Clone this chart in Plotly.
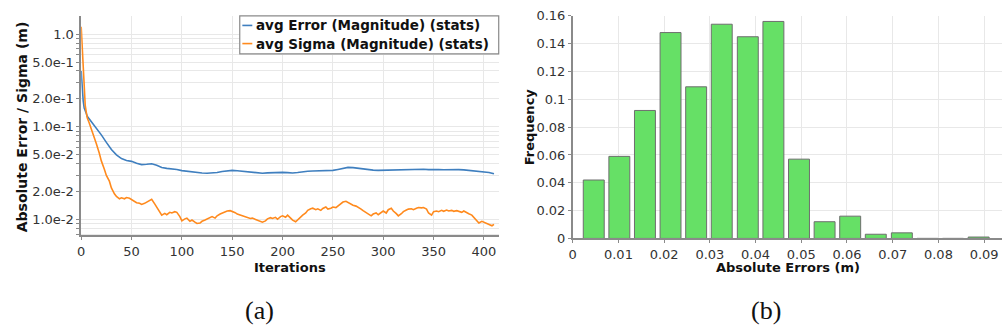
import plotly.graph_objects as go

# ---- (a) convergence of the per-iteration statistics ----
err_iter = [0, 1, 2, 3, 4, 5, 6, 8, 10, 15, 20, 25, 30, 35, 40, 45, 50, 55, 60, 65, 70, 75,
            80, 85, 90, 95, 100, 105, 110, 115, 120, 125, 130, 135, 140, 145, 150, 155, 160,
            165, 170, 175, 180, 185, 190, 195, 200, 205, 210, 215, 220, 225, 230, 235, 240,
            245, 250, 255, 260, 265, 270, 275, 280, 285, 290, 295, 300, 305, 310, 315, 320,
            325, 330, 335, 340, 345, 350, 355, 360, 365, 370, 375, 380, 385, 390, 395, 400,
            405, 410]
err_avg = [0.40, 0.25, 0.19, 0.16, 0.145, 0.14, 0.13, 0.122, 0.113, 0.097, 0.082, 0.068, 0.057,
           0.050, 0.0455, 0.0435, 0.0425, 0.0405, 0.0392, 0.0395, 0.0400, 0.0385, 0.0365,
           0.0357, 0.0355, 0.0347, 0.0338, 0.0332, 0.0327, 0.0323, 0.0318, 0.0316, 0.0318,
           0.0322, 0.0330, 0.0337, 0.0340, 0.0336, 0.0331, 0.0327, 0.0324, 0.0321, 0.0317,
           0.0319, 0.0322, 0.0321, 0.0323, 0.0321, 0.0318, 0.0322, 0.0330, 0.0333, 0.0334,
           0.0336, 0.0335, 0.0338, 0.0340, 0.0348, 0.0358, 0.0366, 0.0364, 0.0357, 0.0349,
           0.0344, 0.0342, 0.0340, 0.0341, 0.0345, 0.0344, 0.0346, 0.0342, 0.0345, 0.0348,
           0.0347, 0.0349, 0.0346, 0.0343, 0.0346, 0.0345, 0.0347, 0.0348, 0.0346, 0.0344,
           0.0340, 0.0334, 0.0330, 0.0328, 0.0322, 0.0312]

sig_iter = [0, 1, 2, 3, 4, 5, 6, 8, 10, 12, 15, 18, 20, 23, 25, 28, 30, 33, 35, 38, 40, 43, 45,
            48, 50, 53, 55, 58, 60, 63, 65, 68, 70, 73, 75, 78, 80, 83, 85, 88, 90, 93, 95, 98,
            100, 103, 105, 108, 110, 113, 115, 118, 120, 123, 125, 128, 130, 133, 135, 138,
            140, 143, 145, 148, 150, 153, 155, 158, 160, 163, 165, 168, 170, 173, 175, 178,
            180, 183, 185, 188, 190, 193, 195, 198, 200, 203, 205, 208, 210, 213, 215, 218,
            220, 223, 225, 228, 230, 233, 235, 238, 240, 243, 245, 248, 250, 253, 255, 258,
            260, 263, 265, 268, 270, 273, 275, 278, 280, 283, 285, 288, 290, 293, 295, 298,
            300, 303, 305, 308, 310, 313, 315, 318, 320, 323, 325, 328, 330, 333, 335, 338,
            340, 343, 345, 348, 350, 353, 355, 358, 360, 363, 365, 368, 370, 373, 375, 378,
            380, 383, 385, 388, 390, 393, 395, 398, 400, 403, 405, 408, 410]
sig_avg = [1.20, 0.70, 0.36, 0.22, 0.17, 0.145, 0.125, 0.11, 0.096, 0.085, 0.066, 0.052, 0.043,
           0.035, 0.030, 0.026, 0.022, 0.019, 0.0178, 0.0168, 0.0172, 0.0168, 0.0173, 0.0170,
           0.0165, 0.0160, 0.0152, 0.0150, 0.0146, 0.0150, 0.0155, 0.0162, 0.0166, 0.0148,
           0.0137, 0.0125, 0.0112, 0.0117, 0.0113, 0.0120, 0.0118, 0.0122, 0.0120, 0.0108,
           0.0097, 0.0102, 0.0104, 0.0096, 0.0099, 0.0094, 0.0091, 0.0092, 0.0096, 0.0099,
           0.0102, 0.0105, 0.0108, 0.0104, 0.0110, 0.0115, 0.0118, 0.0121, 0.0124, 0.0125,
           0.0123, 0.0119, 0.0115, 0.0112, 0.0110, 0.0107, 0.0106, 0.0103, 0.0104, 0.0101,
           0.0100, 0.0097, 0.0094, 0.0097, 0.0102, 0.0105, 0.0103, 0.0106, 0.0101, 0.0108,
           0.0110, 0.0106, 0.0112, 0.0104, 0.0099, 0.0095, 0.0100, 0.0106, 0.0112, 0.0118,
           0.0126, 0.0131, 0.0133, 0.0128, 0.0131, 0.0126, 0.0132, 0.0137, 0.0130, 0.0133,
           0.0137, 0.0135, 0.0141, 0.0150, 0.0155, 0.0158, 0.0153, 0.0147, 0.0143, 0.0140,
           0.0137, 0.0130, 0.0125, 0.0120, 0.0115, 0.0110, 0.0115, 0.0118, 0.0113, 0.0120,
           0.0124, 0.0118, 0.0128, 0.0133, 0.0124, 0.0116, 0.0110, 0.0116, 0.0122, 0.0127,
           0.0130, 0.0131, 0.0128, 0.0133, 0.0135, 0.0134, 0.0135, 0.0130, 0.0118, 0.0112,
           0.0122, 0.0124, 0.0122, 0.0126, 0.0123, 0.0127, 0.0124, 0.0126, 0.0123, 0.0125,
           0.0122, 0.0120, 0.0124, 0.0118, 0.0116, 0.0112, 0.0106, 0.0097, 0.0092, 0.0096,
           0.0094, 0.0090, 0.0088, 0.0086, 0.0089]

series_names = ["avg Error (Magnitude) (stats)", "avg Sigma (Magnitude) (stats)"]
series_colors = ["#3f7fbf", "#ff8a1d"]

iter_ticks = [0, 50, 100, 150, 200, 250, 300, 350, 400]
log_labels = {1.0: "1.0", 0.5: "5.0e-1", 0.2: "2.0e-1", 0.1: "1.0e-1",
              0.05: "5.0e-2", 0.02: "2.0e-2", 0.01: "1.0e-2"}

# ---- (b) histogram of absolute errors ----
bin_centers = [0.0046, 0.0102, 0.0158, 0.0214, 0.0270, 0.0326, 0.0383, 0.0439,
               0.0495, 0.0551, 0.0607, 0.0663, 0.0720, 0.0776, 0.0832, 0.0888]
frequency = [0.042, 0.059, 0.092, 0.148, 0.109, 0.154, 0.145, 0.156,
             0.057, 0.012, 0.016, 0.003, 0.004, 0.0, 0.0, 0.001]
err_ticks = [0, 0.01, 0.02, 0.03, 0.04, 0.05, 0.06, 0.07, 0.08, 0.09]
err_tick_text = ["0", "0.01", "0.02", "0.03", "0.04", "0.05", "0.06", "0.07", "0.08", "0.09"]
freq_ticks = [0, 0.02, 0.04, 0.06, 0.08, 0.1, 0.12, 0.14, 0.16]
freq_tick_text = ["0", "0.02", "0.04", "0.06", "0.08", "0.1", "0.12", "0.14", "0.16"]

W, H = 1002, 334
TICK_FONT = dict(family="DejaVu Sans", size=13, color="#333333")
TITLE_FONT = dict(family="DejaVu Sans", size=13, color="#111111")
GRID = "#e8e8e8"
AXIS = "#8a8a8a"

# log-axis grid: every 1..9 multiple of each decade, labels only at selected values
log_vals, log_text = [], []
for exp in (-3, -2, -1, 0):
    for m in range(1, 10):
        v = round(m * 10 ** exp, 6)
        if 0.006 <= v <= 1.6:
            log_vals.append(v)
            log_text.append(log_labels.get(v, ""))

fig = go.Figure()

fig.add_trace(go.Scatter(x=err_iter, y=err_avg, mode="lines", name=series_names[0],
                         line=dict(color=series_colors[0], width=1.6),
                         xaxis="x", yaxis="y", showlegend=False))
fig.add_trace(go.Scatter(x=sig_iter, y=sig_avg, mode="lines", name=series_names[1],
                         line=dict(color=series_colors[1], width=1.6),
                         xaxis="x", yaxis="y", showlegend=False))

fig.add_trace(go.Bar(x=bin_centers, y=frequency, width=0.00458,
                     marker=dict(color="#66e066", line=dict(color="#6e6e6e", width=1)),
                     xaxis="x2", yaxis="y2", showlegend=False))


def px_x(p):
    return p / W


def px_y(p):
    return 1 - p / H


common = dict(showline=True, linecolor=AXIS, linewidth=1.5, ticks="outside", ticklen=3,
              tickcolor=AXIS, showgrid=True, gridcolor=GRID, gridwidth=1, zeroline=False,
              tickfont=TICK_FONT)

fig.update_layout(
    width=W, height=H,
    margin=dict(l=0, r=0, t=0, b=0),
    paper_bgcolor="white", plot_bgcolor="white",
    xaxis=dict(domain=[px_x(77.5), px_x(497)], range=[0, 415], tickmode="array",
               tickvals=iter_ticks, anchor="y", **common),
    yaxis=dict(domain=[px_y(239), px_y(9)], type="log", range=[-2.168, 0.199],
               tickmode="array", tickvals=log_vals, ticktext=log_text, anchor="x", **common),
    xaxis2=dict(domain=[px_x(571), px_x(1001.5)], range=[0, 0.0938], tickmode="array",
                tickvals=err_ticks, ticktext=err_tick_text, anchor="y2", **common),
    yaxis2=dict(domain=[px_y(242.3), px_y(9.3)], range=[0, 0.16], tickmode="array",
                tickvals=freq_ticks, ticktext=freq_tick_text, anchor="x2", **common),
    bargap=0.18,
)

annotations = [
    dict(text="<b>Iterations</b>", x=px_x(287), y=px_y(273), xref="paper", yref="paper",
         showarrow=False, font=TITLE_FONT, xanchor="center", yanchor="middle"),
    dict(text="<b>Absolute Error / Sigma (m)</b>", x=px_x(18), y=px_y(125), xref="paper",
         yref="paper", showarrow=False, font=dict(TITLE_FONT, size=14), textangle=-90,
         xanchor="center", yanchor="middle"),
    dict(text="<b>Absolute Errors (m)</b>", x=px_x(787), y=px_y(273), xref="paper",
         yref="paper", showarrow=False, font=TITLE_FONT, xanchor="center", yanchor="middle"),
    dict(text="<b>Frequency</b>", x=px_x(527), y=px_y(125), xref="paper", yref="paper",
         showarrow=False, font=TITLE_FONT, textangle=-90, xanchor="center", yanchor="middle"),
    dict(text="(a)", x=px_x(257), y=px_y(318), xref="paper", yref="paper", showarrow=False,
         font=dict(family="Liberation Serif", size=26, color="#111111"),
         xanchor="center", yanchor="middle"),
    dict(text="(b)", x=px_x(765), y=px_y(318), xref="paper", yref="paper", showarrow=False,
         font=dict(family="Liberation Serif", size=26, color="#111111"),
         xanchor="center", yanchor="middle"),
]

# legend box in the upper right of panel (a)
shapes = [dict(type="rect", xref="paper", yref="paper", x0=px_x(236.7), x1=px_x(496.7),
               y0=px_y(49), y1=px_y(9.3), line=dict(color="#8a8a8a", width=1.2),
               fillcolor="white", layer="above")]
for i, (name, color) in enumerate(zip(series_names, series_colors)):
    yc = 19.3 + i * 19
    shapes.append(dict(type="line", xref="paper", yref="paper", x0=px_x(239.3), x1=px_x(249.3),
                       y0=px_y(yc), y1=px_y(yc), line=dict(color=color, width=1.6),
                       layer="above"))
    annotations.append(dict(text="<b>" + name + "</b>", x=px_x(250.5), y=px_y(yc),
                            xref="paper", yref="paper", showarrow=False,
                            font=dict(family="DejaVu Sans", size=13.5, color="#111111"),
                            xanchor="left", yanchor="middle"))

fig.update_layout(annotations=annotations, shapes=shapes)

fig.write_html("out.html")
